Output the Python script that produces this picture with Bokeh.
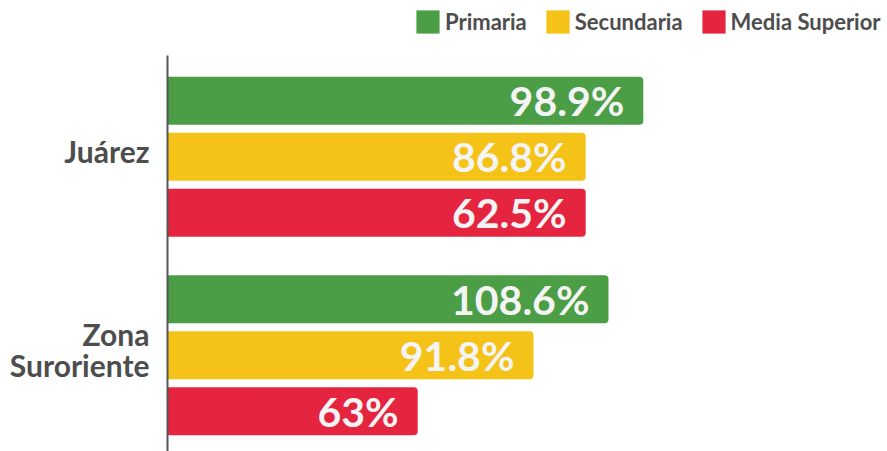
from bokeh.plotting import figure
from bokeh.models import Range1d, Legend, LegendItem, ColumnDataSource, FixedTicker
from bokeh.core.properties import value
from bokeh.embed import file_html
from bokeh.resources import INLINE

# ---- data ----
regions = ["Juárez", "Zona\nSuroriente"]
levels = ["Primaria", "Secundaria", "Media Superior"]
colors = ["#4C9E46", "#F5C218", "#E5243F"]

# bar lengths as drawn in the picture (chart units, 0-120 scale)
primaria_len = [79.3, 73.5]
secundaria_len = [69.7, 61.0]
media_len = [69.7, 41.7]

# printed value labels
primaria_lbl = ["98.9%", "108.6%"]
secundaria_lbl = ["86.8%", "91.8%"]
media_lbl = ["62.5%", "63%"]

series_len = [primaria_len, secundaria_len, media_len]
series_lbl = [primaria_lbl, secundaria_lbl, media_lbl]

# ---- layout constants (group rows, bar step within a group) ----
group_pos = list(range(len(regions)))
step = 0.2823
bar_h = 0.2419
label_nudge = -0.03   # visual nudge of the category labels

p = figure(width=887, height=451,
           y_range=Range1d(1.485, -0.788),
           x_range=Range1d(0, 120),
           toolbar_location=None, output_backend="svg",
           x_axis_location=None,
           min_border_left=167, min_border_right=0,
           min_border_bottom=0, min_border_top=0,
           outline_line_color=None)

tick_pos = [g + label_nudge for g in group_pos]
p.xgrid.grid_line_color = None
p.ygrid.grid_line_color = None
p.yaxis.ticker = FixedTicker(ticks=tick_pos)
p.yaxis.major_label_overrides = {t: r for t, r in zip(tick_pos, regions)}
p.yaxis.bounds = (-0.511, 1.485)
p.yaxis.axis_line_color = "#555555"
p.yaxis.axis_line_width = 2
p.yaxis.major_tick_line_color = None
p.yaxis.minor_tick_line_color = None
p.yaxis.major_label_standoff = 12
p.yaxis.major_label_text_font = "Lato"
p.yaxis.major_label_text_font_style = "bold"
p.yaxis.major_label_text_font_size = "30px"
p.yaxis.major_label_text_line_height = 0.85
p.yaxis.major_label_text_color = "#4D4D4D"

items = []
for i, (lvl, col, lens, lbls) in enumerate(zip(levels, colors, series_len, series_lbl)):
    ys = [g + (i - 1) * step for g in group_pos]
    src = ColumnDataSource(data=dict(y=ys, length=lens, lbl=lbls))
    r = p.hbar(y="y", left=0, right="length", height=bar_h, source=src,
               fill_color=col, line_color=None, border_radius=(0, 4, 4, 0))
    p.text(x="length", y="y", text="lbl", source=src, x_offset=-19,
           text_align="right", text_baseline="middle",
           text_font=value("Lato"), text_font_style="bold",
           text_font_size="41px", text_color="#F4F4F4")
    items.append(LegendItem(label=lvl, renderers=[r]))

legend = Legend(items=items, orientation="horizontal", location=(246, 415),
                glyph_width=29, glyph_height=29, label_height=29,
                label_standoff=3, spacing=16, padding=0, margin=0,
                label_text_font="Lato", label_text_font_style="bold",
                label_text_font_size="22px", label_text_color="#4D4D4D",
                border_line_color=None, background_fill_alpha=0)
p.add_layout(legend)

open("out.html", "w").write(file_html(p, INLINE))
